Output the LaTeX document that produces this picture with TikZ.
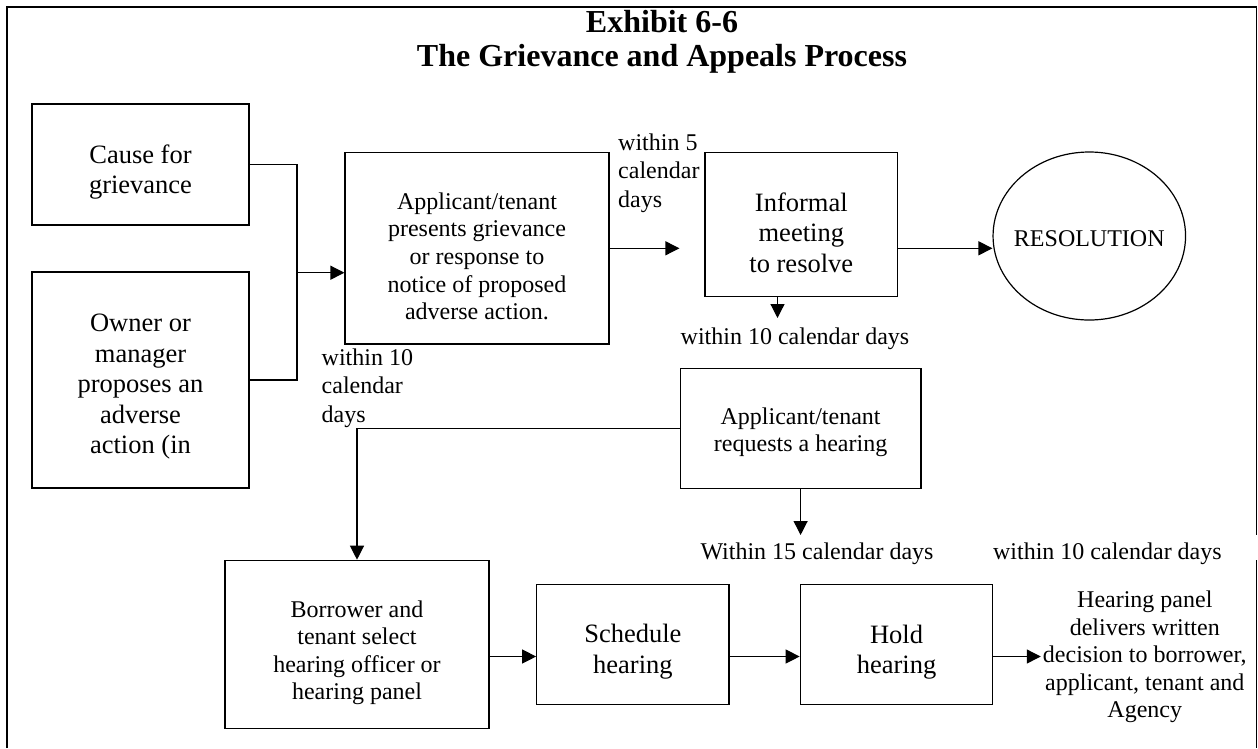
\documentclass[tikz,border=0pt]{standalone}
\usepackage{fontspec}
\setmainfont{Liberation Serif}
\usetikzlibrary{arrows.meta,shapes.geometric}

\tikzset{
  box/.style={draw, line width=1.2pt, inner sep=0pt},
  bigtxt/.style={align=center, font=\fontsize{26.5}{30.5}\selectfont},
  medtxt/.style={align=center, font=\fontsize{24}{27.6}\selectfont},
  daytxt/.style={align=left, inner sep=0pt, font=\fontsize{24}{28.5}\selectfont},
  ln/.style={line width=1.2pt},
  arr/.style={line width=1.2pt, -{Triangle[length=14pt,width=14pt]}},
}

\begin{document}
\begin{tikzpicture}[x=1pt,y=-1pt]
    \useasboundingbox (0,0) rectangle (1258,748);

    % frame
    \draw[line width=1.8pt] (7,748) -- (7,7) -- (1256.5,7);
    \draw[line width=1pt] (1256.5,7) -- (1256.5,535);
    \draw[line width=1pt] (1256.5,560) -- (1256.5,748);

    \node (title) at (662,42) [align=center,font=\bfseries\fontsize{32}{34}\selectfont]
      {Exhibit 6-6\\The Grievance and Appeals Process};

    % boxes
    \node[box,minimum width=217,minimum height=121] (cause) at (140.5,164.5) {};
    \node[box,minimum width=217,minimum height=216] (owner) at (140.5,380) {};
    \node[box,minimum width=264,minimum height=191.5] (apply) at (477,248.3) {};
    \node[box,minimum width=192.6,minimum height=143.5] (informal) at (801.3,224.5) {};
    \node[box,ellipse,minimum width=192.5,minimum height=168] (resol) at (1089.3,236) {};
    \node[box,minimum width=240.8,minimum height=120] (request) at (800.6,428.3) {};
    \node[box,minimum width=264,minimum height=168] (borrow) at (357,644.3) {};
    \node[box,minimum width=192.3,minimum height=120] (sched) at (632.9,644.2) {};
    \node[box,minimum width=192.5,minimum height=120] (hold) at (896.5,644.3) {};

    % box texts
    \node[bigtxt] (causetxt) at ([yshift=-7.5pt]cause.center) {Cause for\\grievance};
    \node[bigtxt] (ownertxt) at ([yshift=-7pt]owner.center)
      {Owner or\\manager\\proposes an\\adverse\\action (in};
    \node[medtxt] (applytxt) at ([yshift=-8pt]apply.center)
      {Applicant/tenant\\presents grievance\\or response to\\notice of proposed\\adverse action.};
    \node[bigtxt] (informaltxt) at ([yshift=-8pt]informal.center) {Informal\\meeting\\to resolve};
    \node[medtxt] (resoltxt) at ([yshift=-3pt]resol.center) {RESOLUTION};
    \node[medtxt] (requesttxt) at ([yshift=-4pt]request.center)
      {Applicant/tenant\\requests a hearing};
    \node[medtxt] (borrowtxt) at ([yshift=-8.5pt]borrow.center)
      {Borrower and\\tenant select\\hearing officer or\\hearing panel};
    \node[bigtxt] (schedtxt) at ([yshift=-7.5pt]sched.center) {Schedule\\hearing};
    \node[bigtxt] (holdtxt) at ([yshift=-8pt]hold.center) {Hold\\hearing};
    \node[medtxt,inner sep=2pt] (decide) at (1144.8,657)
      {Hearing panel\\delivers written\\decision to borrower,\\applicant, tenant and\\Agency};

    % time limits
    \node[daytxt,anchor=base west] (days5) at (618,207) {within 5\\calendar\\days};
    \node[daytxt,anchor=base west] (days10a) at (321.5,422) {within 10\\calendar\\days};
    \node[daytxt,anchor=base] (days10b) at (795,344) {within 10 calendar days};
    \node[daytxt,anchor=base] (days15) at (817,559) {Within 15 calendar days};
    \node[daytxt,anchor=base] (days10c) at (1107.4,559) {within 10 calendar days};

    \coordinate (jn) at (297,272.7);
    \coordinate (t1) at (777.5,318);
    \coordinate (t2) at (800.6,535);
    \coordinate (lvl) at (0,656.5);

    \draw[ln] (cause.east) -| (jn);
    \draw[ln] (owner.east) -| (jn);
    \draw[arr] (jn) -- (apply.west |- jn);
    \draw[arr] (apply.east) -- ([xshift=-25pt]informal.west |- apply.east);
    \draw[arr] (informal.east |- apply.east) -- (resol.west |- apply.east);
    \draw[arr] (informal.south -| t1) -- (t1);
    \draw[arr] (request.west) -| (borrow.north);
    \draw[arr] (request.south) -- (t2);
    \draw[arr] (borrow.east |- lvl) -- (sched.west |- lvl);
    \draw[arr] (sched.east |- lvl) -- (hold.west |- lvl);
    \draw[arr] (hold.east |- lvl) -- (decide.west |- lvl);
\end{tikzpicture}
\end{document}
